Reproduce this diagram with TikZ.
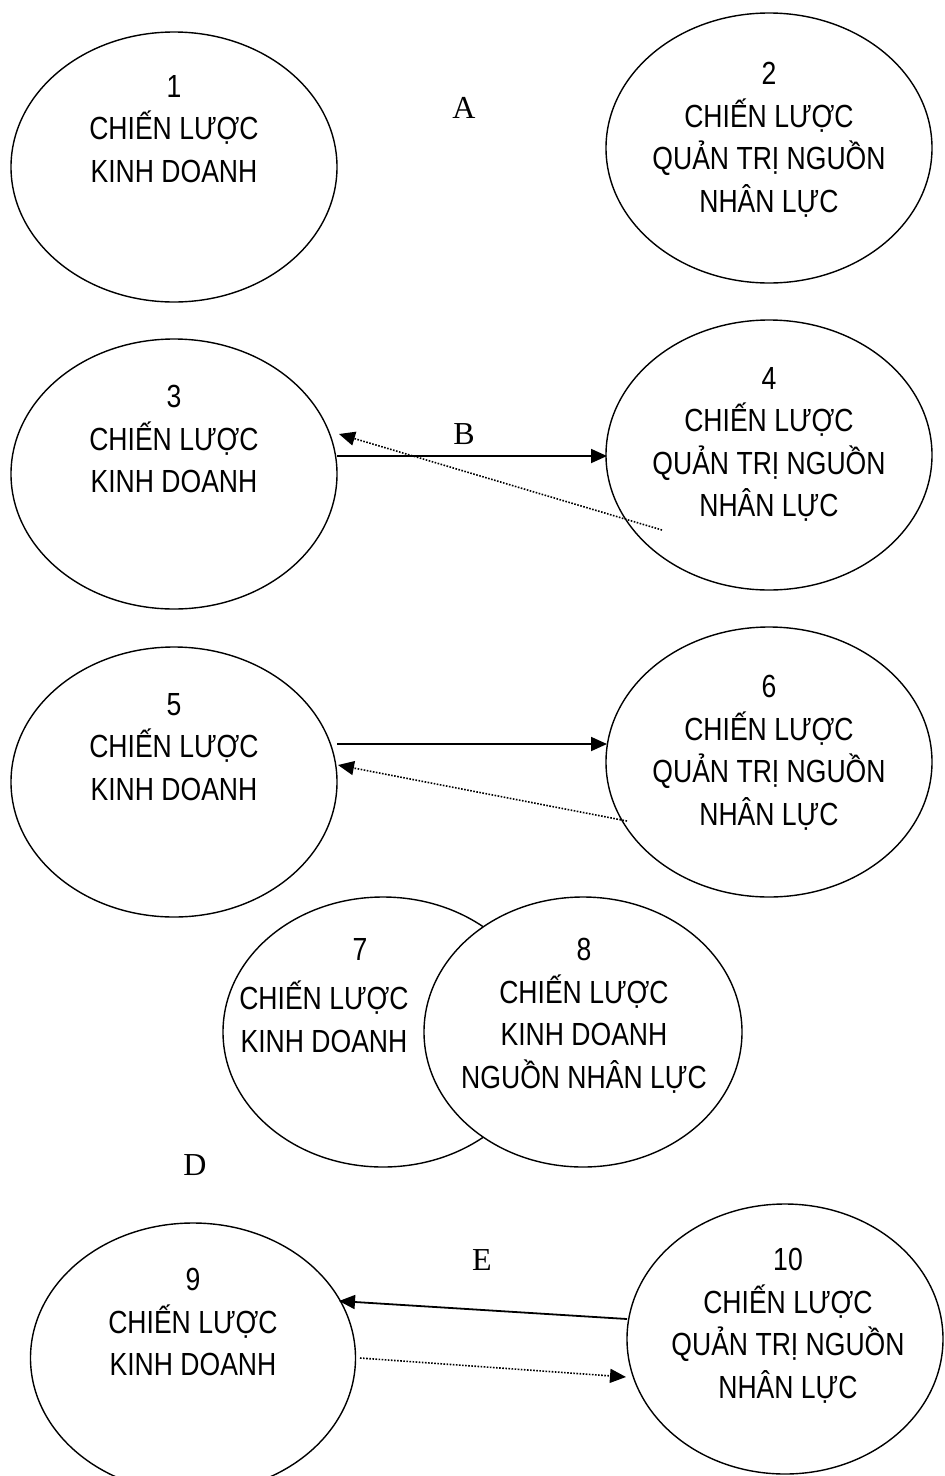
\documentclass[tikz,border=0pt]{standalone}
\usepackage{fontspec}
\setmainfont{Liberation Serif}
\newfontfamily\narrowsans{Liberation Sans}[FakeStretch=0.83]
\usetikzlibrary{arrows.meta,shapes.geometric}
\begin{document}
\begin{tikzpicture}[x=1pt,y=-1pt,
  oval/.style={draw, ellipse, line width=1.4pt, inner sep=0pt,
    minimum width=326pt, minimum height=270pt},
  ovaltext/.style={font=\narrowsans\fontsize{32}{42.5}\selectfont,
    align=center, inner sep=0pt, anchor=north},
  letter/.style={font=\fontsize{32}{38}\selectfont, inner sep=0pt},
  tip/.style={-{Triangle[length=16pt,width=14pt]}},
  strong/.style={tip, line width=1.8pt},
  weak/.style={tip, line width=1.6pt, dash pattern=on 1.6pt off 1.5pt}]
\path[use as bounding box, clip] (0,0) rectangle (945,1476);

% row A: the two strategies side by side
\node[oval] (e1) at (174,167) {};
\node[oval] (e2) at (769,148) {};
\node[ovaltext] (t1) at (174,75) {1\\CHIẾN LƯỢC\\KINH DOANH};
\node[ovaltext] (t2) at (769,62) {2\\CHIẾN LƯỢC\\QUẢN TRỊ NGUỒN\\NHÂN LỰC};
\node[letter] (la) at (464,108) {A};

% row B
\node[oval] (e3) at (174,474) {};
\node[oval] (e4) at (769,455) {};
\node[ovaltext] (t3) at (174,385) {3\\CHIẾN LƯỢC\\KINH DOANH};
\node[ovaltext] (t4) at (769,367) {4\\CHIẾN LƯỢC\\QUẢN TRỊ NGUỒN\\NHÂN LỰC};
\node[letter] (lb) at (464,434) {B};
\coordinate (b-out) at (337,456);
\coordinate (b-in)  at (607,456);
\coordinate (b-back) at (662,530);
\coordinate (b-end)  at (339,434);
\draw[strong] (b-out) -- (b-in);
\draw[weak] (b-back) -- (b-end);

% row C
\node[oval] (e5) at (174,782) {};
\node[oval] (e6) at (769,762) {};
\node[ovaltext] (t5) at (174,693) {5\\CHIẾN LƯỢC\\KINH DOANH};
\node[ovaltext] (t6) at (769,675) {6\\CHIẾN LƯỢC\\QUẢN TRỊ NGUỒN\\NHÂN LỰC};
\coordinate (c-out) at (337,744);
\coordinate (c-in)  at (607,744);
\coordinate (c-back) at (627,821);
\coordinate (c-end)  at (338,765);
\draw[strong] (c-out) -- (c-in);
\draw[weak] (c-back) -- (c-end);

% row D: overlapping strategies
\node[oval, minimum width=320pt] (e7) at (383,1032) {};
\node[oval, minimum width=318pt, fill=white] (e8) at (583,1032) {};
\node[ovaltext] (n7) at (360,938) {7};
\node[ovaltext] (t7) at (324,981) {CHIẾN LƯỢC\\KINH DOANH};
\node[ovaltext] (t8) at (584,938) {8\\CHIẾN LƯỢC\\KINH DOANH\\NGUỒN NHÂN LỰC};
\node[letter] (ld) at (195,1165) {D};

% row E
\node[oval, minimum width=325pt] (e9) at (193,1358) {};
\node[oval, minimum width=316pt] (e10) at (785,1339) {};
\node[ovaltext] (t9) at (193,1268) {9\\CHIẾN LƯỢC\\KINH DOANH};
\node[ovaltext] (t10) at (788,1248) {10\\CHIẾN LƯỢC\\QUẢN TRỊ NGUỒN\\NHÂN LỰC};
\node[letter] (le) at (482,1260) {E};
\coordinate (e-out) at (627,1319);
\coordinate (e-in)  at (339,1301);
\coordinate (e-fwd) at (360,1358);
\coordinate (e-end) at (626,1377);
\draw[strong] (e-out) -- (e-in);
\draw[weak] (e-fwd) -- (e-end);
\end{tikzpicture}
\end{document}
